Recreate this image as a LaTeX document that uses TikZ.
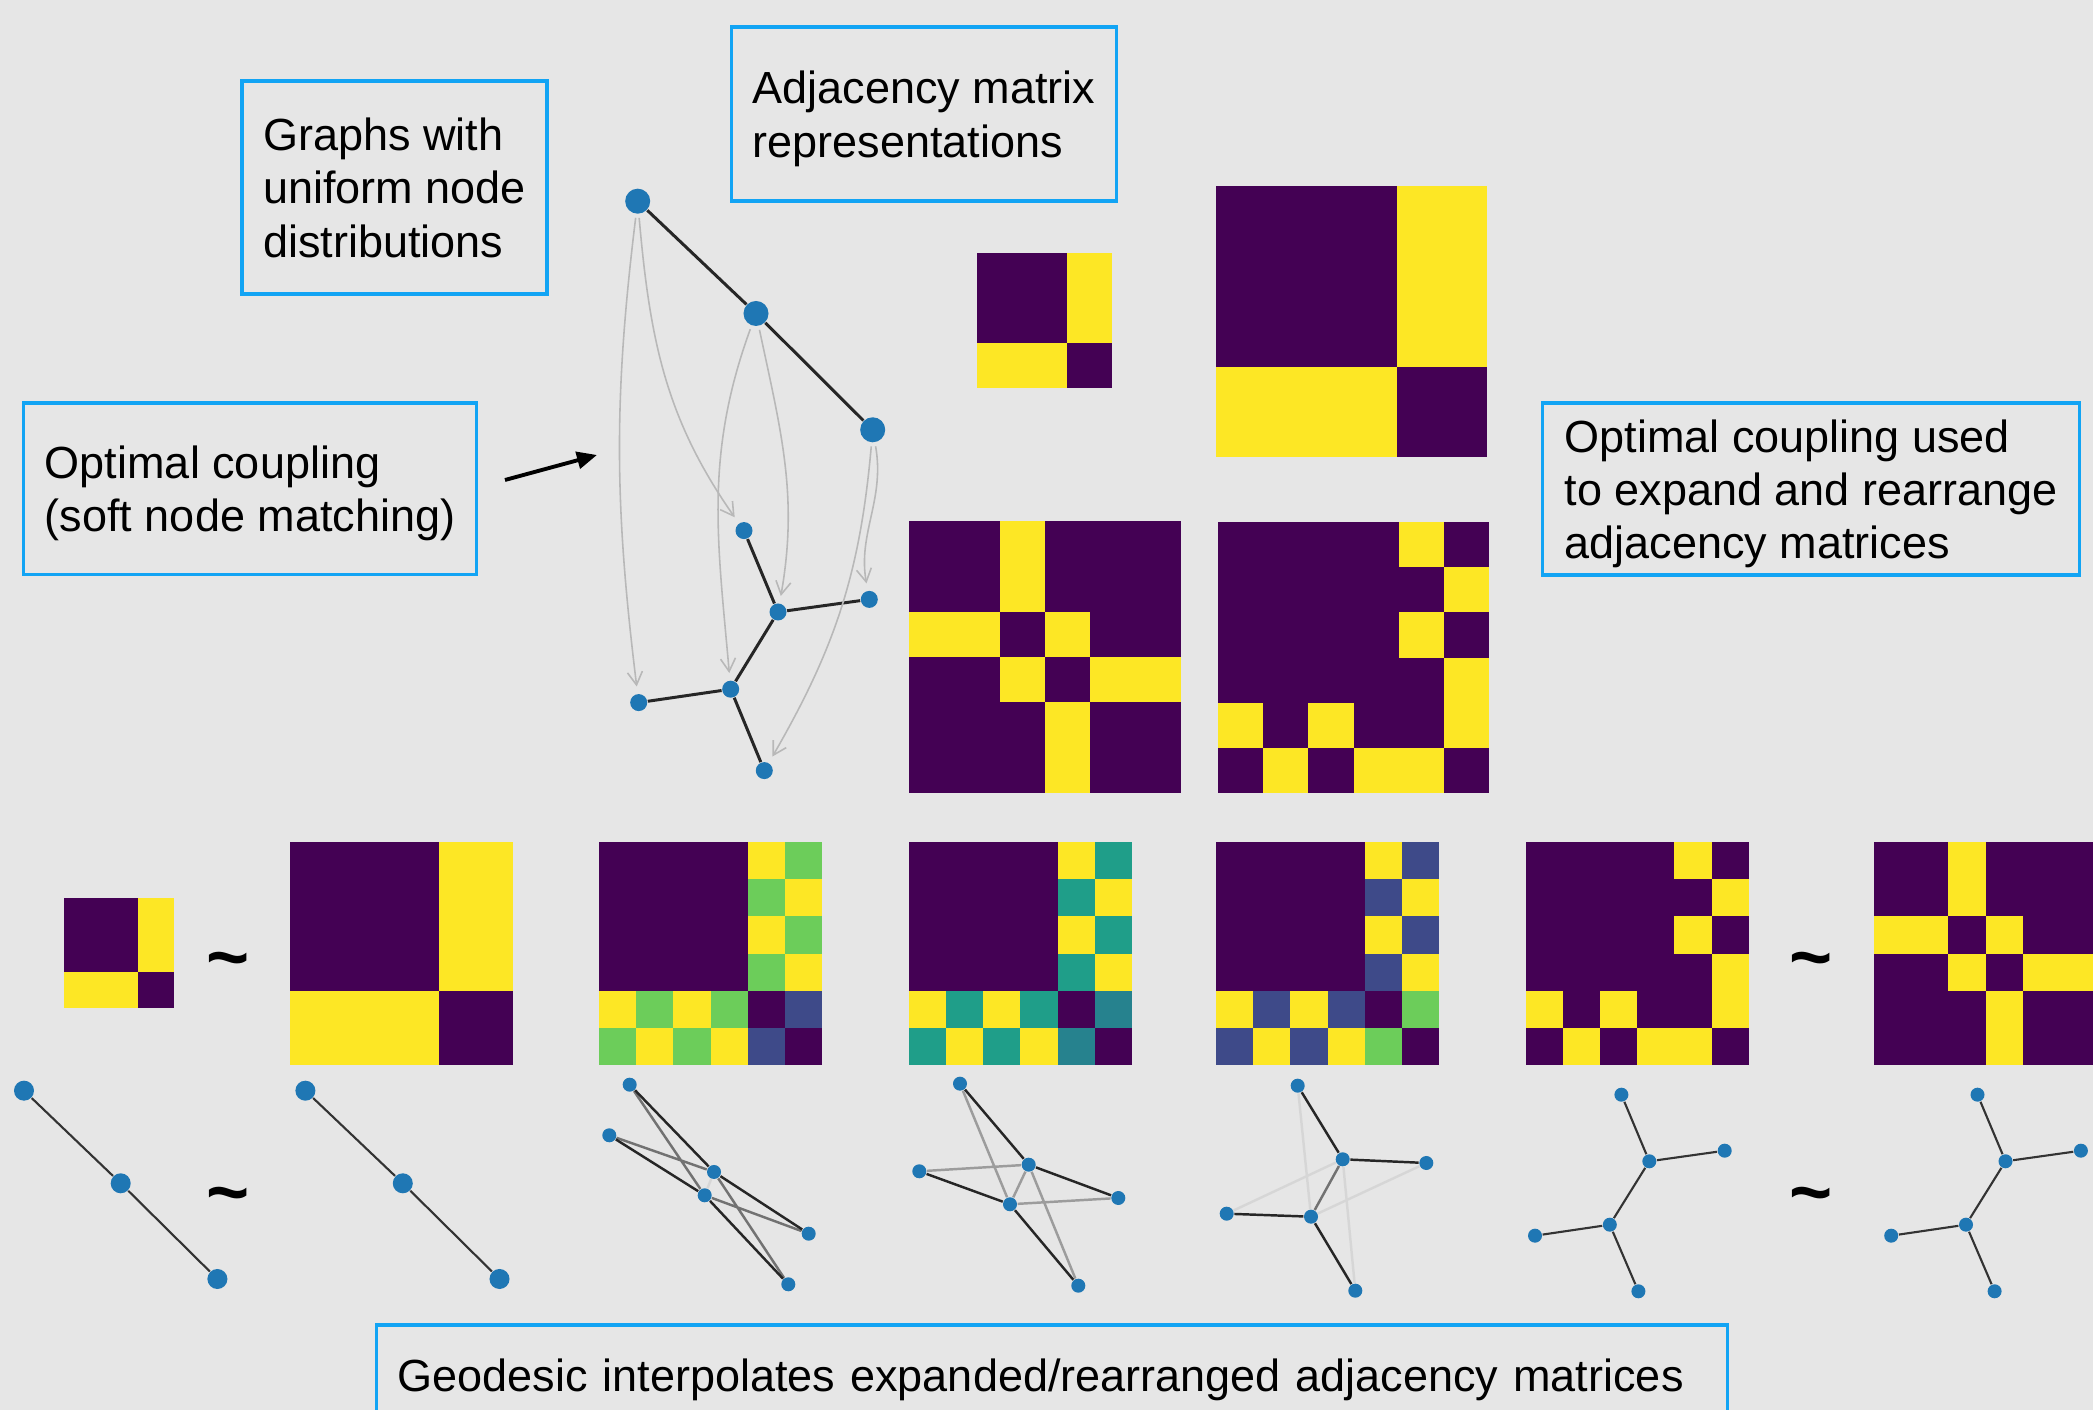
\documentclass[tikz,border=0pt]{standalone}
\usepackage{fontspec}
\setmainfont{Liberation Sans}
\usepackage{xcolor}
\usepackage{tikz}
\usetikzlibrary{arrows.meta}
\definecolor{bgray}{RGB}{230,230,230}
\definecolor{boxblue}{RGB}{18,164,244}
\definecolor{dotblue}{RGB}{31,119,180}
\definecolor{vp}{RGB}{68,1,84}
\definecolor{vy}{RGB}{253,231,37}
\definecolor{vg}{RGB}{108,205,90}
\definecolor{vb}{RGB}{62,74,137}
\definecolor{vt}{RGB}{31,158,137}
\definecolor{vtb}{RGB}{38,130,142}

\newcommand{\pathrows}{{vp,vp,vy},{vp,vp,vy},{vy,vy,vp}}
\newcommand{\bigpathrows}{{vp,vp,vp,vp,vy,vy},{vp,vp,vp,vp,vy,vy},{vp,vp,vp,vp,vy,vy},{vp,vp,vp,vp,vy,vy},{vy,vy,vy,vy,vp,vp},{vy,vy,vy,vy,vp,vp}}
\newcommand{\treerows}{{vp,vp,vy,vp,vp,vp},{vp,vp,vy,vp,vp,vp},{vy,vy,vp,vy,vp,vp},{vp,vp,vy,vp,vy,vy},{vp,vp,vp,vy,vp,vp},{vp,vp,vp,vy,vp,vp}}
\newcommand{\swaprows}{{vp,vp,vp,vp,vy,vp},{vp,vp,vp,vp,vp,vy},{vp,vp,vp,vp,vy,vp},{vp,vp,vp,vp,vp,vy},{vy,vp,vy,vp,vp,vy},{vp,vy,vp,vy,vy,vp}}

\newcommand{\adjmat}[3]{%
  \begin{scope}[shift={#1}]
    \foreach \mrow [count=\i from 0] in #3 {
      \foreach \mcell [count=\j from 0] in \mrow {
        \fill[\mcell] (\j*#2,\i*#2) rectangle ++(#2,#2);
      }
    }
  \end{scope}}
\newcommand{\mixmat}[3]{%
  \adjmat{#1}{37.2}{{{vp,vp,vp,vp,vy,#2},{vp,vp,vp,vp,#2,vy},{vp,vp,vp,vp,vy,#2},{vp,vp,vp,vp,#2,vy},{vy,#2,vy,#2,vp,#3},{#2,vy,#2,vy,#3,vp}}}}

\begin{document}
\begin{tikzpicture}[x=0.01cm, y=-0.01cm, font=\fontsize{12.8}{15.2}\selectfont,
    infobox/.style={draw=boxblue, line width=1pt, align=left, inner sep=0pt},
    bigdot/.style={circle, fill=dotblue, inner sep=0pt, minimum size=0.25cm},
    vtx/.style={circle, fill=dotblue, inner sep=0pt, minimum size=#1},
    vtx/.default=0.14cm,
    tedge/.style={draw=black!85, line width=0.85pt},
    pedge/.style={draw=black!80, line width=0.6pt},
    wedge/.style={draw=black!85, line width=0.7pt, draw opacity=#1},
    couple/.style={draw=black!28, line width=0.45pt, -{Straight Barb[length=0.13cm,width=0.15cm]}, shorten <=1pt, shorten >=2pt},
    tilde/.style={font=\fontsize{21}{21}\selectfont\bfseries, inner sep=0pt}]
\fill[bgray] (0,0) rectangle (2093,1410);
\useasboundingbox (0,0) rectangle (2093,1410);

\node[infobox, minimum width=3.05cm, minimum height=2.13cm] (graphsbox) at (394.5,187.5) {Graphs with\\uniform node\\distributions};
\node[infobox, text depth=-0.04cm, minimum width=3.85cm, minimum height=1.74cm] (adjbox) at (924,114) {Adjacency matrix\\representations};
\node[infobox, text depth=-0.04cm, minimum width=4.53cm, minimum height=1.71cm] (couplebox) at (250.1,488.8) {Optimal coupling\\(soft node matching)};
\node[infobox, text depth=-0.04cm, minimum width=5.37cm, minimum height=1.72cm] (usebox) at (1811,489.2) {Optimal coupling used\\to expand and rearrange\\adjacency matrices};
\node[infobox, minimum width=13.5cm, minimum height=1.1cm, text width=13.08cm] (geobox) at (1052,1380) {Geodesic interpolates expanded/rearranged adjacency matrices};

\coordinate (arrtail) at (505,480);
\coordinate (arrhead) at (597,455);
\draw[-{Triangle[length=0.2cm,width=0.17cm]}, line width=1.1pt] (arrtail) -- (arrhead);

\node[bigdot] (u1) at (637.7,201.2) {};
\node[bigdot] (u2) at (756,313.5) {};
\node[bigdot] (u3) at (872.7,429.8) {};
\node[vtx=0.17cm] (s1) at (744,530.6) {};
\node[vtx=0.17cm] (s2) at (778,612) {};
\node[vtx=0.17cm] (s3) at (869.3,599.4) {};
\node[vtx=0.17cm] (s4) at (638.7,702.6) {};
\node[vtx=0.17cm] (s5) at (730.7,689.2) {};
\node[vtx=0.17cm] (s6) at (764.3,770.6) {};
\draw[tedge] (u1) -- (u2) -- (u3);
\draw[tedge] (s1) -- (s2) -- (s3);
\draw[tedge] (s2) -- (s5);
\draw[tedge] (s4) -- (s5) -- (s6);
\draw[couple] (u1) to[out=-97,in=97] (s4);
\draw[couple] (u1) to[out=-85,in=125] (s1);
\draw[couple] (u2) to[out=-110,in=95] (s5);
\draw[couple] (u2) to[out=-78,in=80] (s2);
\draw[couple] (u3) to[out=-80,in=100] (s3);
\draw[couple] (u3) to[out=-95,in=60] (s6);

\adjmat{(977,253)}{45.1}{\pathrows}
\adjmat{(1216,186)}{45.2}{\bigpathrows}
\adjmat{(909,521)}{45.3}{\treerows}
\adjmat{(1218,522)}{45.2}{\swaprows}

\adjmat{(64,898)}{36.8}{\pathrows}
\adjmat{(290,842)}{37.2}{\bigpathrows}
\mixmat{(599,842)}{vg}{vb}
\mixmat{(908.7,842)}{vt}{vtb}
\mixmat{(1216,842)}{vb}{vg}
\adjmat{(1525.5,842)}{37.2}{\swaprows}
\adjmat{(1874,842)}{37.2}{\treerows}

\node[tilde] (sim1) at (228.3,967) {\char"7E};
\node[tilde] (sim2) at (228.3,1202) {\char"7E};
\node[tilde] (sim3) at (1811.4,967) {\char"7E};
\node[tilde] (sim4) at (1811.4,1202) {\char"7E};

\node[vtx=0.2cm] (a1) at (24,1090.7) {};
\node[vtx=0.2cm] (a2) at (120.7,1183.3) {};
\node[vtx=0.2cm] (a3) at (217.4,1279) {};
\draw[pedge] (a1) -- (a2) -- (a3);
\node[vtx=0.2cm] (b1) at (305.4,1090.7) {};
\node[vtx=0.2cm] (b2) at (402.8,1183.3) {};
\node[vtx=0.2cm] (b3) at (499.5,1279) {};
\draw[pedge] (b1) -- (b2) -- (b3);

\node[vtx] (c1) at (629.7,1084.7) {};
\node[vtx] (c2) at (609.3,1135.3) {};
\node[vtx] (c3) at (714,1172) {};
\node[vtx] (c4) at (704.7,1195.3) {};
\node[vtx] (c5) at (808.7,1233.7) {};
\node[vtx] (c6) at (788.3,1284.3) {};
\draw[wedge=1] (c1) -- (c3) (c2) -- (c4) (c3) -- (c5) (c4) -- (c6);
\draw[wedge=0.6] (c1) -- (c4) (c2) -- (c3) (c4) -- (c5) (c3) -- (c6);
\draw[wedge=0.08] (c3) -- (c4);

\node[vtx] (d1) at (960,1083.7) {};
\node[vtx] (d2) at (919.3,1171.3) {};
\node[vtx] (d3) at (1028.7,1164.7) {};
\node[vtx] (d4) at (1010,1204.3) {};
\node[vtx] (d5) at (1118.3,1198) {};
\node[vtx] (d6) at (1078.3,1285.7) {};
\draw[wedge=1] (d1) -- (d3) (d2) -- (d4) (d3) -- (d5) (d4) -- (d6);
\draw[wedge=0.38] (d1) -- (d4) (d2) -- (d3) (d4) -- (d5) (d3) -- (d6) (d3) -- (d4);

\node[vtx] (e1) at (1297.7,1085.7) {};
\node[vtx] (e2) at (1226.7,1213.7) {};
\node[vtx] (e3) at (1342.7,1159.3) {};
\node[vtx] (e4) at (1311,1216.7) {};
\node[vtx] (e5) at (1426.3,1163) {};
\node[vtx] (e6) at (1355.3,1290.7) {};
\draw[wedge=1] (e1) -- (e3) (e2) -- (e4) (e3) -- (e5) (e4) -- (e6);
\draw[wedge=0.08] (e1) -- (e4) (e2) -- (e3) (e4) -- (e5) (e3) -- (e6);
\draw[wedge=0.6] (e3) -- (e4);

\node[vtx] (f1) at (1621.4,1094.7) {};
\node[vtx] (f2) at (1649.3,1161.3) {};
\node[vtx] (f3) at (1724.7,1150.7) {};
\node[vtx] (f4) at (1535,1235.7) {};
\node[vtx] (f5) at (1609.8,1224.7) {};
\node[vtx] (f6) at (1638.4,1291.3) {};
\draw[pedge] (f1) -- (f2) -- (f3) (f2) -- (f5) (f4) -- (f5) -- (f6);

\node[vtx] (g1) at (1977.5,1094.7) {};
\node[vtx] (g2) at (2005.5,1161.3) {};
\node[vtx] (g3) at (2080.9,1150.7) {};
\node[vtx] (g4) at (1891.2,1235.7) {};
\node[vtx] (g5) at (1966,1224.7) {};
\node[vtx] (g6) at (1994.6,1291.3) {};
\draw[pedge] (g1) -- (g2) -- (g3) (g2) -- (g5) (g4) -- (g5) -- (g6);
\end{tikzpicture}
\end{document}
